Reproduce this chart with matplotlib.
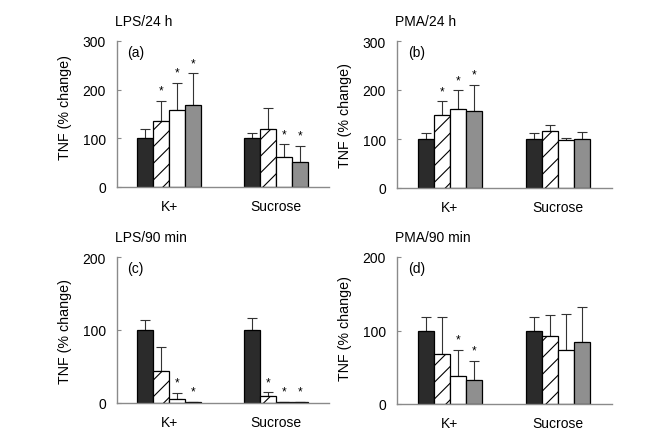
import matplotlib
matplotlib.use('Agg')
import matplotlib.pyplot as plt
import numpy as np

plt.rcParams['font.family'] = ['Liberation Sans', 'DejaVu Sans']
plt.rcParams['hatch.linewidth'] = 0.8

""" Data read off the figure """
groups = ['K+', 'Sucrose']
titles = ['LPS/24 h', 'PMA/24 h', 'LPS/90 min', 'PMA/90 min']
letters = ['(a)', '(b)', '(c)', '(d)']
ymax = [300, 300, 200, 200]

# rows = groups (K+, Sucrose), columns = the four bars
a_mean = [[100, 136, 159, 169], [100, 119, 61, 51]]
a_err = [[19, 41, 55, 65], [11, 44, 27, 34]]
a_star = [[0, 1, 1, 1], [0, 0, 1, 1]]

b_mean = [[100, 150, 162, 158], [100, 116, 97, 101]]
b_err = [[12, 27, 37, 53], [13, 13, 5, 14]]
b_star = [[0, 1, 1, 1], [0, 0, 0, 0]]

c_mean = [[100, 44, 6, 2], [100, 10, 2, 2]]
c_err = [[14, 33, 8, 0], [17, 4.5, 0, 0]]
c_star = [[0, 0, 1, 1], [0, 1, 1, 1]]

d_mean = [[100, 68, 38, 32], [100, 92, 74, 84]]
d_err = [[19, 51, 36, 27], [18, 29, 48, 48]]
d_star = [[0, 0, 1, 1], [0, 0, 0, 0]]

panels = [(a_mean, a_err, a_star), (b_mean, b_err, b_star),
          (c_mean, c_err, c_star), (d_mean, d_err, d_star)]

""" Bar styles """
faces = ['#2b2b2b', 'white', 'white', '#8f8f8f']
hatches = [None, '//', None, None]
axis_col = '#8a8a8a'
fs = 10

W, H = 651, 431
fig = plt.figure(figsize=(W / 100, H / 100), dpi=100)

# axes boxes in pixels: left, right, top, bottom
boxes = [(117, 329, 42, 188), (397, 612, 42, 189),
         (117, 329, 258, 404), (397, 612, 258, 405)]
ylab_y = [0.55, 0.5, 0.5, 0.52]

width = 0.15
offsets = (np.arange(4) - 1.5) * width
x = np.arange(len(groups))

for i, (mean, err, star) in enumerate(panels):
    l, r, t, b = boxes[i]
    ax = fig.add_axes([l / W, 1 - b / H, (r - l) / W, (b - t) / H])
    mean = np.array(mean)
    err = np.array(err)
    for j in range(4):
        ax.bar(x + offsets[j], mean[:, j], width, color=faces[j],
               hatch=hatches[j], edgecolor='black', linewidth=0.9, zorder=2)
        ax.errorbar(x + offsets[j], mean[:, j], yerr=[np.zeros(2), err[:, j]],
                    fmt='none', ecolor='#333333', elinewidth=0.8,
                    capsize=3.5, capthick=0.8, zorder=1)
        for g in range(len(groups)):
            if star[g][j]:
                ax.annotate('*', (x[g] + offsets[j], mean[g, j] + err[g, j]),
                            xytext=(0, 3), textcoords='offset points',
                            ha='center', va='bottom', fontsize=8.5)
    ax.set_xlim(-0.49, 1.5)
    ax.set_ylim(0, ymax[i])
    ax.set_yticks(np.arange(0, ymax[i] + 1, 100))
    ax.set_xticks(x)
    ax.set_xticklabels(groups, fontsize=fs)
    ax.tick_params(axis='x', length=0, pad=9)
    ax.tick_params(axis='y', direction='in', length=3, color=axis_col,
                   labelsize=fs, pad=8)
    for s in ['top', 'right']:
        ax.spines[s].set_visible(False)
    for s in ['left', 'bottom']:
        ax.spines[s].set_color(axis_col)
        ax.spines[s].set_linewidth(1.0)
    ax.set_ylabel('TNF (% change)', fontsize=10.3)
    ax.yaxis.set_label_coords(-45 / (r - l), ylab_y[i])
    ax.text(0.05, 0.97, letters[i], transform=ax.transAxes, fontsize=fs,
            ha='left', va='top')
    fig.text((l - 2) / W, 1 - (t - 20) / H, titles[i], fontsize=fs,
             ha='left', va='center')

plt.savefig('out.png', dpi=100)
